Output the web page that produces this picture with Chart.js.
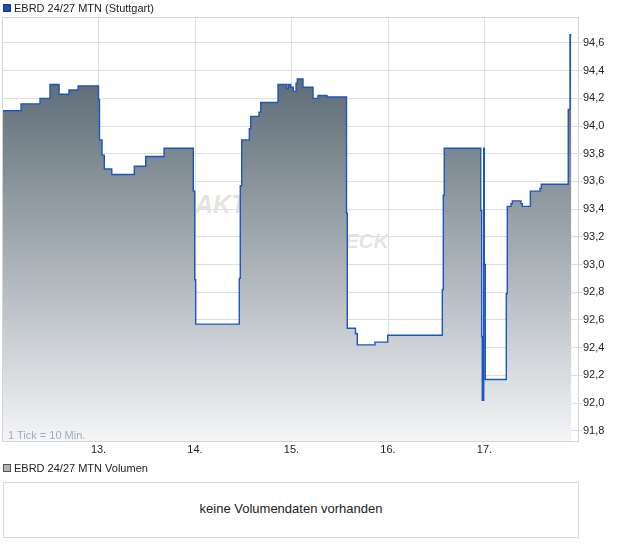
<!DOCTYPE html>
<html>
<head>
<meta charset="utf-8">
<script src="https://cdn.jsdelivr.net/npm/chart.js@4.4.1/dist/chart.umd.min.js"></script>
<style>
  body { margin: 0; background: #fff; font-family: "Liberation Sans", Arial, sans-serif; color: #222; }
  #wrap { position: relative; width: 620px; height: 546px; }
  #myChart { position: absolute; left: 0; top: 0; }
  .lbl { position: absolute; font-size: 11px; line-height: 14px; white-space: nowrap; }
  .sq { position: absolute; width: 6px; height: 6px; }
  #note { position: absolute; left: 8px; top: 428px; font-size: 11px; line-height: 14px; color: #a3abbb; }
  #volbox { position: absolute; left: 3px; top: 482px; width: 574px; height: 54px; border: 1px solid #d8d8d8;
            font-size: 13px; text-align: center; line-height: 52px; }
</style>
</head>
<body>
<div id="wrap">
  <canvas id="myChart" width="620" height="460"></canvas>
  <div class="sq" style="left:3px; top:4px; background:#1f4fa6; border:1px solid #123c86;"></div>
  <div class="lbl" style="left:14px; top:1px;">EBRD 24/27 MTN (Stuttgart)</div>
  <div id="note">1 Tick = 10 Min.</div>
  <div class="sq" style="left:3px; top:464px; background:#b4b4b4; border:1px solid #555;"></div>
  <div class="lbl" style="left:14px; top:461px;">EBRD 24/27 MTN Volumen</div>
  <div id="volbox">keine Volumendaten vorhanden</div>
</div>
<script>
// time axis in trading-day units (12.0 = start of the 12th), one step per price change
const times = [
  12.010, 12.197, 12.394, 12.497, 12.591, 12.694, 12.788,
  13.000, 13.010, 13.036, 13.060, 13.137, 13.371, 13.489, 13.679, 13.982, 13.997,
  14.007, 14.459, 14.469, 14.484, 14.563, 14.577, 14.663, 14.681, 14.860, 14.950, 14.967, 14.992,
  15.019, 15.047, 15.060, 15.119, 15.223, 15.275, 15.368, 15.570, 15.578, 15.663, 15.682, 15.865, 15.997,
  16.563, 16.573, 16.583, 16.961, 16.971, 16.977, 16.992, 16.998,
  17.008, 17.226, 17.236, 17.275, 17.288, 17.378, 17.392, 17.475, 17.575, 17.589, 17.868, 17.886, 17.900
];
const prices = [
  94.11, 94.16, 94.20, 94.30, 94.23, 94.26, 94.29,
  94.19, 93.90, 93.79, 93.69, 93.65, 93.71, 93.78, 93.84, 93.53, 92.89,
  92.57, 92.90, 93.57, 93.90, 93.98, 94.07, 94.10, 94.17, 94.30, 94.27, 94.30, 94.28,
  94.25, 94.31, 94.34, 94.28, 94.20, 94.22, 94.21, 93.37, 92.54, 92.50, 92.42, 92.44, 92.49,
  92.82, 93.50, 93.84, 93.39, 92.48, 92.02, 93.84, 93.00,
  92.17, 92.79, 93.42, 93.44, 93.46, 93.44, 93.42, 93.53, 93.55, 93.58, 94.12, 94.66, 94.66
];
const dayTicks = [13, 14, 15, 16, 17];
const priceTicks = [91.8, 92.0, 92.2, 92.4, 92.6, 92.8, 93.0, 93.2, 93.4, 93.6, 93.8, 94.0, 94.2, 94.4, 94.6];

const points = times.map((t, i) => ({ x: t, y: prices[i] }));

// faint watermark between grid and area fill, plus the plot frame
const watermark = {
  id: 'watermark',
  beforeDatasetsDraw(chart) {
    const c = chart.ctx;
    c.save();
    c.fillStyle = '#e7e3de';
    c.textBaseline = 'alphabetic';
    c.font = 'italic bold 25px "Liberation Sans", Arial, sans-serif';
    c.textAlign = 'left';
    c.fillText('AKTIEN', 195, 213);
    c.font = 'italic bold 21px "Liberation Sans", Arial, sans-serif';
    c.textAlign = 'right';
    c.fillText('CHECK', 389, 248);
    c.restore();
  },
  afterDraw(chart) {
    const a = chart.chartArea, c = chart.ctx;
    c.save();
    c.strokeStyle = '#d4d4d4';
    c.lineWidth = 1;
    c.strokeRect(a.left - 0.5, a.top - 0.5, a.right - a.left + 1, a.bottom - a.top + 1);
    c.restore();
  }
};

Chart.defaults.font.family = '"Liberation Sans", Arial, sans-serif';
Chart.defaults.font.size = 11;
Chart.defaults.color = '#222';

const ctx = document.getElementById('myChart').getContext('2d');

const myChart = new Chart(ctx, {
  type: 'line',
  data: {
    datasets: [{
      data: points,
      stepped: true,
      fill: 'start',
      borderColor: '#1d55c0',
      borderWidth: 1.4,
      pointRadius: 0,
      backgroundColor(context) {
        const area = context.chart.chartArea;
        if (!area) return null;
        const g = context.chart.ctx.createLinearGradient(0, area.top, 0, area.bottom);
        g.addColorStop(0, '#445560');
        g.addColorStop(1, '#f4f5f7');
        return g;
      }
    }]
  },
  options: {
    responsive: false,
    animation: false,
    devicePixelRatio: 1,
    layout: { padding: { top: 18, left: 3, right: 0, bottom: 0 } },
    plugins: { legend: { display: false }, tooltip: { enabled: false } },
    scales: {
      x: {
        type: 'linear',
        min: 12.01,
        max: 17.969,
        afterBuildTicks(scale) { scale.ticks = dayTicks.map(v => ({ value: v })); },
        afterFit(scale) { scale.height = 19; },
        ticks: { padding: 2, color: '#222', callback: v => v + '.' },
        grid: { color: '#dddddd', drawTicks: false },
        border: { color: '#d4d4d4' }
      },
      y: {
        position: 'right',
        min: 91.726,
        max: 94.78,
        afterBuildTicks(scale) { scale.ticks = priceTicks.map(v => ({ value: v })); },
        afterFit(scale) { scale.width = 42; },
        ticks: { padding: 0, color: '#222', callback: v => v.toFixed(1).replace('.', ',') },
        grid: { color: '#dddddd', tickLength: 5 },
        border: { color: '#d4d4d4' }
      }
    }
  },
  plugins: [watermark]
});
</script>
</body>
</html>
